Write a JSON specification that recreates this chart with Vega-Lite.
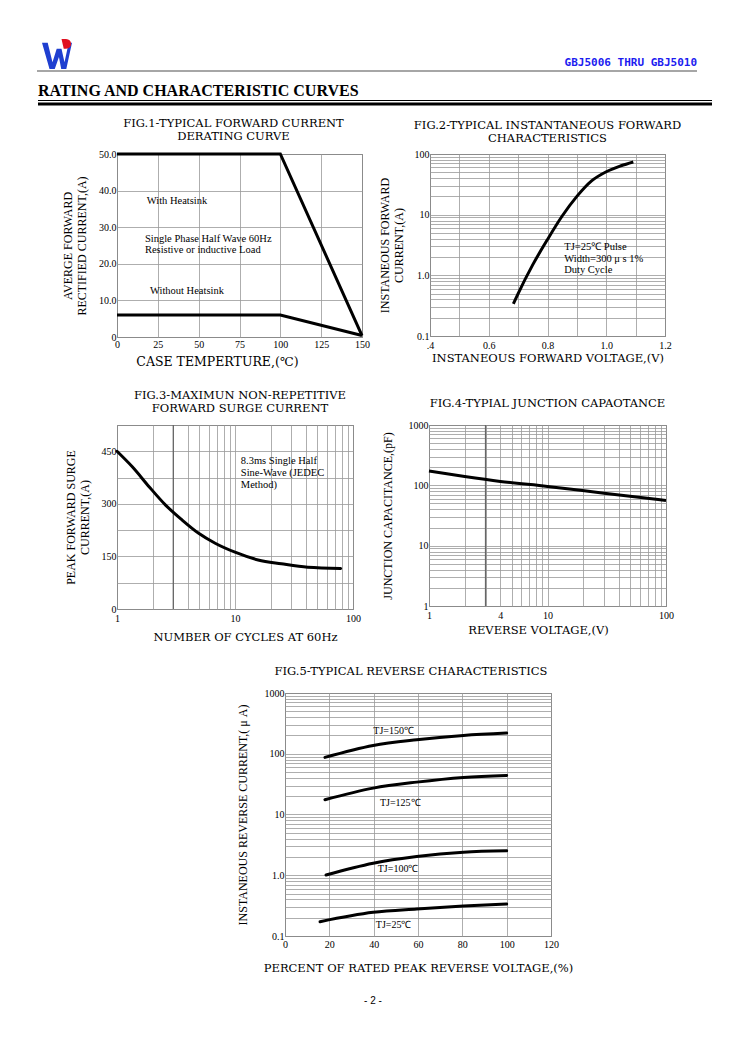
{
"$schema":"https://vega.github.io/schema/vega-lite/v6.json",
"padding":0,
"background":"white",
"bounds":"full",
"spacing":0,
"columns":1,
"align":"each",
"config":{
 "view":{"stroke":null},
 "axis":{"labelFont":"Liberation Serif","labelFontSize":10,"labelColor":"#000","titleFont":"Liberation Serif","titleFontSize":12,"titleFontWeight":"normal","titleColor":"#000","ticks":false,"domain":false,"grid":true,"gridColor":"#999999","gridWidth":0.8,"gridOpacity":1,"labelOverlap":false,"labelFlush":false},
 "axisX":{"titleFont":"DejaVu Serif","titleFontSize":11.5,"titleBaseline":"middle"},
 "axisY":{"titleBaseline":"middle","labelPadding":1},
 "title":{"font":"DejaVu Serif","fontSize":11.5,"fontWeight":"normal","color":"#000","lineHeight":12.5,"frame":"group"},
 "text":{"font":"Liberation Serif","fontSize":10.5,"color":"#000"},
 "line":{"color":"#000","strokeWidth":3,"strokeCap":"round"}
},
"datasets":{
 "f1":[{"s":"a","x":0,"y":50},{"s":"a","x":100,"y":50},{"s":"a","x":150,"y":0.4},{"s":"b","x":0,"y":6},{"s":"b","x":100,"y":6},{"s":"b","x":150,"y":0.4}],
 "f1t":[{"x":18.2,"y":37.2,"label":"With Heatsink"},{"x":17.1,"y":26.8,"label":"Single Phase Half Wave 60Hz"},{"x":17.1,"y":23.8,"label":"Resistive or inductive Load"},{"x":20.2,"y":12.6,"label":"Without Heatsink"}],
 "f2":[{"x":0.684,"y":0.34},{"x":0.7,"y":0.5},{"x":0.75,"y":1.5},{"x":0.8,"y":3.9},{"x":0.85,"y":9.5},{"x":0.9,"y":20},{"x":0.95,"y":36},{"x":1.0,"y":51},{"x":1.05,"y":64},{"x":1.092,"y":74}],
 "f2t":[{"x":0.857,"y":2.95,"label":"TJ=25℃ Pulse"},{"x":0.857,"y":1.89,"label":"Width=300 μ s 1%"},{"x":0.857,"y":1.21,"label":"Duty Cycle"}],
 "f3":[{"x":1,"y":450},{"x":1.354,"y":405},{"x":1.87,"y":349},{"x":2.58,"y":296.5},{"x":3.56,"y":254},{"x":4.92,"y":216},{"x":6.79,"y":187.6},{"x":10,"y":162},{"x":15.7,"y":140},{"x":24.7,"y":129},{"x":41.3,"y":119},{"x":78.6,"y":115.6}],
 "f3t":[{"x":11.2,"y":421.6,"label":"8.3ms Single Half"},{"x":11.2,"y":388.4,"label":"Sine-Wave (JEDEC"},{"x":11.2,"y":355,"label":"Method)"}],
 "f3d":[{"x":3,"y":0},{"x":3,"y":525}],
 "f4":[{"x":1,"y":173},{"x":2,"y":140},{"x":4,"y":116},{"x":10,"y":96},{"x":30,"y":74},{"x":100,"y":56}],
 "f4d":[{"x":3,"y":1},{"x":3,"y":1000}],
 "f5":[{"s":"150","x":18,"y":87},{"s":"150","x":39.8,"y":137},{"s":"150","x":59.4,"y":170},{"s":"150","x":80.5,"y":200},{"s":"150","x":100,"y":219},
  {"s":"125","x":18,"y":17.5},{"s":"125","x":39.8,"y":27.2},{"s":"125","x":59.4,"y":34.1},{"s":"125","x":80.5,"y":40.7},{"s":"125","x":100,"y":44},
  {"s":"100","x":18.5,"y":1.01},{"s":"100","x":39.8,"y":1.58},{"s":"100","x":59.4,"y":2.03},{"s":"100","x":80.5,"y":2.39},{"s":"100","x":100,"y":2.52},
  {"s":"25","x":15.8,"y":0.172},{"s":"25","x":39.8,"y":0.245},{"s":"25","x":59.4,"y":0.279},{"s":"25","x":80.5,"y":0.312},{"s":"25","x":100,"y":0.337}],
 "f5t":[{"x":49,"y":239,"label":"TJ=150℃"},{"x":52,"y":15.4,"label":"TJ=125℃"},{"x":51,"y":1.26,"label":"TJ=100℃"},{"x":49,"y":0.152,"label":"TJ=25℃"}]
},
"concat":[
 {
  "width":712,"height":117,
  "encoding":{
   "x":{"field":"x","type":"quantitative","scale":{"domain":[0,712],"nice":false,"zero":false},"axis":null},
   "y":{"field":"y","type":"quantitative","scale":{"domain":[0,117],"nice":false,"zero":false,"reverse":true},"axis":null}
  },
  "layer":[
   {"data":{"values":[{"x":57,"y":54}]},"mark":{"type":"point","shape":"M-1,-0.75 L-0.62,-0.75 L-0.3,0.55 L-0.02,-0.35 L0.3,-0.35 L0.5,0.55 L0.78,-0.75 L1,-0.75 L0.62,1 L0.28,1 L0.13,0.2 L-0.15,1 L-0.5,1 Z","filled":true,"size":900,"color":"#1f3fd0","opacity":1,"strokeWidth":0}},
   {"data":{"values":[{"x":57,"y":54}]},"mark":{"type":"point","shape":"M0.3,-1 L0.6,-1 C1.05,-1 1.05,-0.35 0.6,-0.35 L0.45,-0.35 Z","filled":true,"size":900,"color":"#e01020","opacity":1,"strokeWidth":0}},
   {"data":{"values":[{"x":37,"x2":697,"y":71}]},"mark":{"type":"rule","color":"#888888","strokeWidth":1.5},"encoding":{"x2":{"field":"x2"}}},
   {"data":{"values":[{"x":38,"x2":712,"y":100.5}]},"mark":{"type":"rule","color":"#000","strokeWidth":1.2},"encoding":{"x2":{"field":"x2"}}},
   {"data":{"values":[{"x":38,"x2":712,"y":104}]},"mark":{"type":"rule","color":"#000","strokeWidth":3},"encoding":{"x2":{"field":"x2"}}},
   {"data":{"values":[{"x":697,"y":63,"label":"GBJ5006 THRU GBJ5010"}]},"mark":{"type":"text","align":"right","baseline":"middle","font":"DejaVu Sans Mono","fontSize":11,"fontWeight":"bold","color":"#1c1cf0"},"encoding":{"text":{"field":"label"}}},
   {"data":{"values":[{"x":38,"y":91,"label":"RATING AND CHARACTERISTIC CURVES"}]},"mark":{"type":"text","align":"left","baseline":"middle","font":"Liberation Serif","fontSize":16,"fontWeight":"bold","color":"#000"},"encoding":{"text":{"field":"label"}}}
  ]
 },
 {
  "bounds":"flush","spacing":68,
  "hconcat":[
   {"width":49,"height":235,"data":{"values":[]},"mark":"point","encoding":{}},
   {
    "width":245,"height":183,
    "view":{"stroke":"#555555","strokeWidth":1},
    "title":{"text":["FIG.1-TYPICAL FORWARD CURRENT","DERATING CURVE"],"offset":6,"dx":-6},
    "encoding":{
     "x":{"field":"x","type":"quantitative","scale":{"domain":[0,150],"nice":false,"zero":false},"axis":{"values":[0,25,50,75,100,125,150],"title":"CASE TEMPERTURE,(℃)","titleFontSize":12.5,"titleX":100,"titleY":24,"labelPadding":2}},
     "y":{"field":"y","type":"quantitative","scale":{"domain":[0,50],"nice":false,"zero":false},"axis":{"values":[0,10,20,30,40,50],"labelExpr":"datum.value == 0 ? '0' : format(datum.value, '.1f')","title":["AVERGE FORWARD","RECTIFIED CURRENT,(A)"],"titleX":-50}}
    },
    "layer":[
     {"data":{"name":"f1"},"mark":{"type":"line","strokeCap":"butt"},"encoding":{"detail":{"field":"s"}}},
     {"data":{"name":"f1t"},"mark":{"type":"text","align":"left","baseline":"middle"},"encoding":{"text":{"field":"label"}}}
    ]
   },
   {
    "width":235,"height":182,
    "view":{"stroke":"#555555","strokeWidth":1},
    "title":{"text":["FIG.2-TYPICAL INSTANTANEOUS FORWARD","CHARACTERISTICS"],"offset":5},
    "encoding":{
     "x":{"field":"x","type":"quantitative","scale":{"domain":[0.4,1.2],"nice":false,"zero":false},"axis":{"values":[0.4,0.5,0.6,0.7,0.8,0.9,1,1.1,1.2],"labelExpr":"datum.value == 0.4 ? '.4' : (datum.value == 0.6 || datum.value == 0.8 || datum.value == 1 || datum.value == 1.2) ? format(datum.value, '.1f') : ''","title":"INSTANEOUS FORWARD VOLTAGE,(V)","titleY":22,"labelPadding":4}},
     "y":{"field":"y","type":"quantitative","scale":{"type":"log","domain":[0.1,100],"nice":false},"axis":{"values":[0.1,0.2,0.3,0.4,0.5,0.6,0.7,0.8,0.9,1,2,3,4,5,6,7,8,9,10,20,30,40,50,60,70,80,90,100],"labelExpr":"datum.value == 0.1 ? '0.1' : datum.value == 1 ? '1.0' : datum.value == 10 ? '10' : datum.value == 100 ? '100' : ''","title":["INSTANEOUS FORWARD","CURRENT,(A)"],"titleX":-46}}
    },
    "layer":[
     {"data":{"name":"f2"},"mark":{"type":"line","interpolate":"monotone","strokeCap":"butt"}},
     {"data":{"name":"f2t"},"mark":{"type":"text","align":"left","baseline":"middle"},"encoding":{"text":{"field":"label"}}}
    ]
   }
  ]
 },
 {
  "bounds":"flush","spacing":76,
  "hconcat":[
   {"width":41,"height":240,"data":{"values":[]},"mark":"point","encoding":{}},
   {
    "width":236,"height":184,
    "view":{"stroke":"#555555","strokeWidth":1},
    "title":{"text":["FIG.3-MAXIMUN NON-REPETITIVE","FORWARD SURGE CURRENT"],"offset":6,"dx":5},
    "encoding":{
     "x":{"field":"x","type":"quantitative","scale":{"type":"log","domain":[1,100],"nice":false},"axis":{"values":[1,2,3,4,5,6,7,8,9,10,20,30,40,50,60,70,80,90,100],"labelExpr":"datum.value == 1 ? '1' : datum.value == 10 ? '10' : datum.value == 100 ? '100' : ''","title":"NUMBER OF CYCLES AT 60Hz","titleX":128,"titleY":28,"labelPadding":4}},
     "y":{"field":"y","type":"quantitative","scale":{"domain":[0,525],"nice":false,"zero":false},"axis":{"values":[0,75,150,225,300,375,450,525],"labelExpr":"(datum.value == 0 || datum.value == 150 || datum.value == 300 || datum.value == 450) ? format(datum.value, 'd') : ''","title":["PEAK FORWARD SURGE","CURRENT,(A)"],"titleX":-47}}
    },
    "layer":[
     {"data":{"name":"f3d"},"mark":{"type":"line","color":"#666666","strokeWidth":1.3,"strokeCap":"butt"}},
     {"data":{"name":"f3"},"mark":{"type":"line","interpolate":"monotone"}},
     {"data":{"name":"f3t"},"mark":{"type":"text","align":"left","baseline":"middle"},"encoding":{"text":{"field":"label"}}}
    ]
   },
   {
    "width":237,"height":181,
    "view":{"stroke":"#555555","strokeWidth":1},
    "title":{"text":"FIG.4-TYPIAL JUNCTION CAPAOTANCE","offset":11},
    "encoding":{
     "x":{"field":"x","type":"quantitative","scale":{"type":"log","domain":[1,100],"nice":false},"axis":{"values":[1,2,3,4,5,6,7,8,9,10,20,30,40,50,60,70,80,90,100],"labelExpr":"datum.value == 1 ? '1' : datum.value == 4 ? '4' : datum.value == 10 ? '10' : datum.value == 100 ? '100' : ''","title":"REVERSE VOLTAGE,(V)","titleX":109,"titleY":24,"labelPadding":4}},
     "y":{"field":"y","type":"quantitative","scale":{"type":"log","domain":[1,1000],"nice":false},"axis":{"values":[1,2,3,4,5,6,7,8,9,10,20,30,40,50,60,70,80,90,100,200,300,400,500,600,700,800,900,1000],"labelExpr":"datum.value == 1 ? '1' : datum.value == 10 ? '10' : datum.value == 100 ? '100' : datum.value == 1000 ? '1000' : ''","title":"JUNCTION CAPACITANCE,(pF)","titleX":-42}}
    },
    "layer":[
     {"data":{"name":"f4d"},"mark":{"type":"line","color":"#666666","strokeWidth":1.3,"strokeCap":"butt"}},
     {"data":{"name":"f4"},"mark":{"type":"line","interpolate":"monotone","strokeCap":"butt"}}
    ]
   }
  ]
 },
 {
  "bounds":"flush","spacing":10,
  "hconcat":[
   {"width":275,"height":303,"data":{"values":[]},"mark":"point","encoding":{}},
   {
    "width":266,"height":243,
    "view":{"stroke":"#555555","strokeWidth":1},
    "title":{"text":"FIG.5-TYPICAL REVERSE CHARACTERISTICS","offset":11,"dx":-7},
    "encoding":{
     "x":{"field":"x","type":"quantitative","scale":{"domain":[0,120],"nice":false,"zero":false},"axis":{"values":[0,20,40,60,80,100,120],"format":"d","title":"PERCENT OF RATED PEAK REVERSE VOLTAGE,(%)","titleY":32,"labelPadding":3}},
     "y":{"field":"y","type":"quantitative","scale":{"type":"log","domain":[0.1,1000],"nice":false},"axis":{"values":[0.1,0.2,0.3,0.4,0.5,0.6,0.7,0.8,0.9,1,2,3,4,5,6,7,8,9,10,20,30,40,50,60,70,80,90,100,200,300,400,500,600,700,800,900,1000],"labelExpr":"datum.value == 0.1 ? '0.1' : datum.value == 1 ? '1.0' : datum.value == 10 ? '10' : datum.value == 100 ? '100' : datum.value == 1000 ? '1000' : ''","title":"INSTANEOUS REVERSE CURRENT,( μ A)","titleX":-43}}
    },
    "layer":[
     {"data":{"name":"f5"},"mark":{"type":"line","interpolate":"monotone"},"encoding":{"detail":{"field":"s"}}},
     {"data":{"name":"f5t"},"mark":{"type":"text","align":"center","baseline":"middle","fontSize":10},"encoding":{"text":{"field":"label"}}}
    ]
   }
  ]
 },
 {"width":746,"height":10,"data":{"values":[{"label":"- 2 -"}]},"mark":{"type":"text","font":"Liberation Sans","fontSize":10,"color":"#000"},"encoding":{"text":{"field":"label"}}}
]
}
